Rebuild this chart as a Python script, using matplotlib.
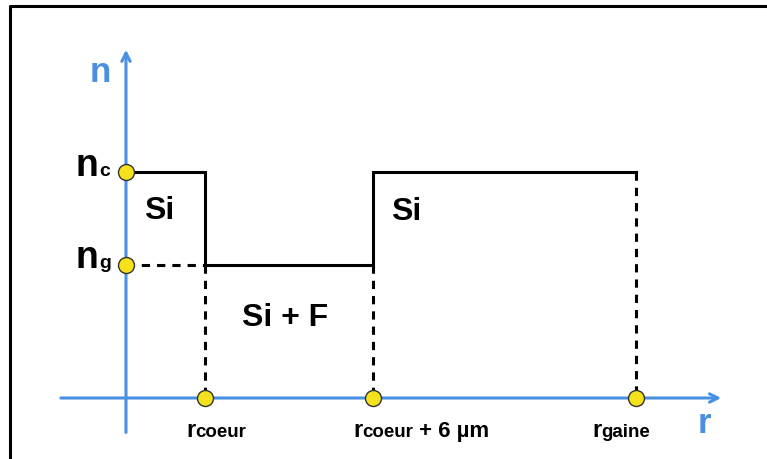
import matplotlib.pyplot as plt
from matplotlib.lines import Line2D

plt.rcParams['font.family'] = ['Liberation Sans', 'DejaVu Sans']

# index profile (arbitrary units)
r_coeur = 1.0
r_trench = 3.13   # r_coeur + 6 um
r_gaine = 6.46
n_c = 1.7
n_g = 1.0

profile_r = [0, r_coeur, r_coeur, r_trench, r_trench, r_gaine]
profile_n = [n_c, n_c, n_g, n_g, n_c, n_c]
marks_r = [0, 0, r_coeur, r_trench, r_gaine]
marks_n = [n_c, n_g, 0, 0, 0]

blue = '#4a90e2'
dash = (0, (2.7, 2.3))

fig = plt.figure(figsize=(7.67, 4.59), dpi=100)
ax = fig.add_axes([0, 0, 1, 1])
ax.set_xlim(-126 / 79, (767 - 126) / 79)
ax.set_ylim(-61 / 133, 398 / 133)
ax.axis('off')
renderer = fig.canvas.get_renderer()


def sub_label(x, y, base, sub, size, subsize, tail=None, tailsize=None):
    # base letter, smaller subscript on the same baseline, optional tail
    t = ax.text(x, y, base, fontsize=size, fontweight='bold', ha='left', va='baseline')
    off = t.get_window_extent(renderer).width * 72 / fig.dpi
    s = ax.annotate(sub, (x, y), xytext=(off, 0), textcoords='offset points',
                    fontsize=subsize, fontweight='bold', ha='left', va='baseline')
    if tail:
        off += s.get_window_extent(renderer).width * 72 / fig.dpi
        ax.annotate(tail, (x, y), xytext=(off, 0), textcoords='offset points',
                    fontsize=tailsize, fontweight='bold', ha='left', va='baseline')


# frame
fig.add_artist(Line2D([10 / 767, 10 / 767, 1.0], [0, 1 - 6 / 459, 1 - 6 / 459],
                      transform=fig.transFigure, color='black', lw=2.2))

# axes arrows
ax.annotate('', xy=(7.57, 0), xytext=(-0.86, 0),
            arrowprops=dict(arrowstyle='->,head_length=0.6,head_width=0.3', color=blue, lw=2.2))
ax.annotate('', xy=(0, 2.64), xytext=(0, -0.28),
            arrowprops=dict(arrowstyle='->,head_length=0.6,head_width=0.3', color=blue, lw=2.2))

# profile
ax.plot(profile_r, profile_n, color='black', lw=2.2, solid_joinstyle='miter', zorder=3)
ax.plot([0, r_coeur], [n_g, n_g], color='black', lw=2.2, ls=dash, zorder=3)
for r, n in [(r_coeur, n_g), (r_trench, n_g), (r_gaine, n_c)]:
    ax.plot([r, r], [n, 0], color='black', lw=2.2, ls=dash, zorder=3)

ax.plot(marks_r, marks_n, 'o', ms=11.5, mfc='#f5e21c', mec='#333333', mew=1.0, zorder=5)

ax.text(-0.456, 2.376, 'n', color=blue, fontsize=25, fontweight='bold', ha='left', va='baseline')
ax.text(7.23, -0.263, 'r', color=blue, fontsize=25, fontweight='bold', ha='left', va='baseline')

sub_label(-0.633, 1.669, 'n', 'c', 27, 14)
sub_label(-0.633, 0.977, 'n', 'g', 27, 14)

ax.text(0.228, 1.346, 'Si', fontsize=23, fontweight='bold', ha='left', va='baseline')
ax.text(3.354, 1.338, 'Si', fontsize=23, fontweight='bold', ha='left', va='baseline')
ax.text(1.468, 0.541, 'Si + F', fontsize=23, fontweight='bold', ha='left', va='baseline')

sub_label(0.759, -0.293, 'r', 'coeur', 17, 13.5)
sub_label(2.873, -0.293, 'r', 'coeur', 17, 13.5, tail=' + 6 µm', tailsize=16)
sub_label(5.899, -0.293, 'r', 'gaine', 17, 13.5)

fig.savefig('out.png', dpi=100)
